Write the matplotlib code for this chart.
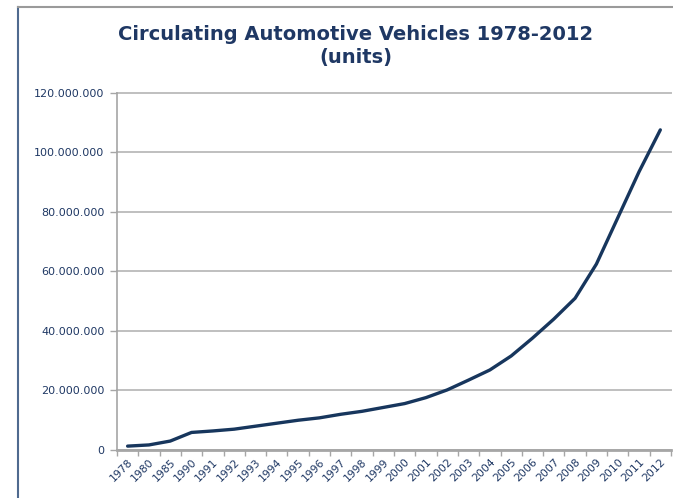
import matplotlib.pyplot as plt
from matplotlib.lines import Line2D
from matplotlib.ticker import FuncFormatter, FixedLocator

# Years shown on the category axis and vehicles in circulation (units)
years = ["1978", "1980", "1985", "1990", "1991", "1992", "1993", "1994", "1995",
         "1996", "1997", "1998", "1999", "2000", "2001", "2002", "2003", "2004",
         "2005", "2006", "2007", "2008", "2009", "2010", "2011", "2012"]
vehicles = [1.3e6, 1.7e6, 3.0e6, 5.9e6, 6.4e6, 7.0e6, 8.0e6, 9.0e6, 10.0e6,
            10.8e6, 12.0e6, 13.0e6, 14.3e6, 15.6e6, 17.6e6, 20.2e6, 23.5e6, 26.9e6,
            31.6e6, 37.6e6, 44.0e6, 51.0e6, 62.5e6, 78.0e6, 93.5e6, 107.6e6]

navy = "#1F3864"
grey = "#A6A6A6"

fig = plt.figure(figsize=(6.73, 4.98), dpi=100)
ax = fig.add_axes([0.1738, 0.0964, 0.8232, 0.7169])

x = list(range(len(years)))
ax.plot(x, vehicles, color="#17365D", lw=2.4, solid_capstyle="round")

ax.set_xlim(-0.5, len(years) - 0.5)
ax.set_ylim(0, 120e6)
ax.set_yticks(range(0, 120000001, 20000000))
ax.yaxis.set_major_formatter(FuncFormatter(lambda v, p: f"{int(v):,}".replace(",", ".")))
ax.grid(axis="y", color="#BFBFBF", lw=1.4)
for gl in ax.get_ygridlines():
    gl.set_clip_on(False)
ax.set_axisbelow(True)

# labels at category centres, tick marks at category boundaries
ax.set_xticks(x)
ax.set_xticklabels(years, rotation=45, ha="right", rotation_mode="anchor",
                   fontsize=7.8, color=navy)
ax.tick_params(axis="x", length=0, pad=5)
ax.xaxis.set_minor_locator(FixedLocator([i - 0.5 for i in range(len(years) + 1)]))
ax.tick_params(axis="x", which="minor", length=4, color=grey, width=1)
ax.tick_params(axis="y", length=5, color=grey, width=1, labelsize=8,
               labelcolor=navy, pad=4)

for s in ["top", "right"]:
    ax.spines[s].set_visible(False)
ax.spines["left"].set_color(grey)
ax.spines["left"].set_linewidth(1.2)
ax.spines["bottom"].set_color(grey)
ax.spines["bottom"].set_linewidth(2)

fig.text(0.529, 0.930, "Circulating Automotive Vehicles 1978-2012", ha="center",
         va="center", fontsize=14, fontweight="bold", color=navy)
fig.text(0.529, 0.884, "(units)", ha="center", va="center", fontsize=14,
         fontweight="bold", color=navy)

# outer chart frame (cropped at right and bottom)
fig.add_artist(Line2D([0.027, 0.027], [0, 0.986], color="#4F6A8F", lw=1.5))
fig.add_artist(Line2D([0.027, 1.0], [0.986, 0.986], color="#9A9A9A", lw=1.5))

fig.savefig("out.png", dpi=100)
